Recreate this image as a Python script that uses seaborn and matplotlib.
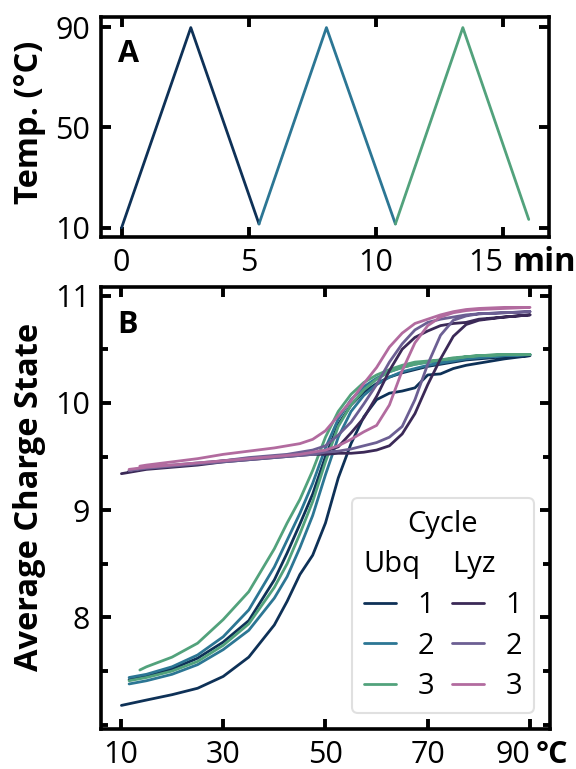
import matplotlib
matplotlib.use("Agg")
import matplotlib.pyplot as plt
import seaborn as sns
import pandas as pd
from matplotlib.ticker import FixedLocator
from matplotlib.legend_handler import HandlerBase
from matplotlib.lines import Line2D
from matplotlib.text import Text

# ---------------- Panel A: temperature program ----------------
cycle1_time = [0.0, 2.72, 5.40]
cycle1_temp = [10.0, 89.8, 11.5]
cycle2_time = [5.40, 8.05, 10.76]
cycle2_temp = [11.5, 89.8, 11.5]
cycle3_time = [10.76, 13.41, 16.00]
cycle3_temp = [11.5, 89.8, 13.3]

# ---------------- Panel B: average charge state vs temperature ----------------
temp_from_10 = [10.1, 15, 20, 25, 30, 35, 40, 42.5, 45, 47.5, 50, 52.5, 55,
                57.5, 60, 62.5, 65, 67.5, 70, 72.5, 75, 77.5, 80, 85, 90]
temp_from_11 = [11.6, 15, 20, 25, 30, 35, 40, 42.5, 45, 47.5, 50, 52.5, 55,
                57.5, 60, 62.5, 65, 67.5, 70, 72.5, 75, 77.5, 80, 85, 90]
temp_from_13 = [13.7, 15, 20, 25, 30, 35, 40, 42.5, 45, 47.5, 50, 52.5, 55,
                57.5, 60, 62.5, 65, 67.5, 70, 72.5, 75, 77.5, 80, 85, 90]

ubq_c1_heat = [7.18, 7.23, 7.28, 7.34, 7.45, 7.63, 7.93, 8.15, 8.40, 8.58, 8.88, 9.30, 9.62,
               9.87, 10.03, 10.09, 10.11, 10.14, 10.26, 10.27, 10.32, 10.35, 10.37, 10.41, 10.44]
ubq_c1_cool = [7.42, 7.45, 7.52, 7.62, 7.77, 7.97, 8.35, 8.60, 8.87, 9.15, 9.50, 9.80, 9.98,
               10.10, 10.18, 10.24, 10.28, 10.31, 10.34, 10.36, 10.38, 10.40, 10.41, 10.43, 10.44]
ubq_c2_heat = [7.38, 7.41, 7.47, 7.56, 7.70, 7.88, 8.18, 8.38, 8.65, 8.95, 9.33, 9.68, 9.92,
               10.07, 10.17, 10.24, 10.29, 10.32, 10.35, 10.37, 10.39, 10.41, 10.42, 10.44, 10.45]
ubq_c2_cool = [7.44, 7.47, 7.54, 7.65, 7.82, 8.07, 8.47, 8.72, 8.97, 9.25, 9.58, 9.85, 10.03,
               10.15, 10.23, 10.29, 10.33, 10.36, 10.38, 10.39, 10.41, 10.42, 10.43, 10.44, 10.45]
ubq_c3_heat = [7.41, 7.44, 7.50, 7.59, 7.74, 7.94, 8.28, 8.50, 8.78, 9.08, 9.45, 9.78, 9.98,
               10.12, 10.22, 10.29, 10.33, 10.36, 10.38, 10.40, 10.41, 10.43, 10.44, 10.45, 10.45]
ubq_c3_cool = [7.51, 7.54, 7.63, 7.76, 7.98, 8.24, 8.64, 8.88, 9.10, 9.37, 9.68, 9.92, 10.08,
               10.19, 10.26, 10.31, 10.35, 10.38, 10.39, 10.40, 10.42, 10.43, 10.44, 10.45, 10.45]

lyz_c1_heat = [9.34, 9.38, 9.40, 9.42, 9.45, 9.47, 9.49, 9.50, 9.51, 9.52, 9.52, 9.53, 9.53,
               9.54, 9.56, 9.60, 9.71, 9.90, 10.17, 10.41, 10.62, 10.73, 10.77, 10.80, 10.82]
lyz_c1_cool = [9.36, 9.39, 9.41, 9.43, 9.46, 9.48, 9.50, 9.51, 9.52, 9.53, 9.55, 9.59, 9.72,
               9.86, 10.06, 10.30, 10.50, 10.61, 10.67, 10.72, 10.74, 10.75, 10.78, 10.80, 10.82]
lyz_c2_heat = [9.37, 9.39, 9.41, 9.43, 9.45, 9.47, 9.49, 9.50, 9.51, 9.52, 9.54, 9.55, 9.57,
               9.60, 9.63, 9.68, 9.78, 10.03, 10.36, 10.63, 10.77, 10.81, 10.83, 10.84, 10.85]
lyz_c2_cool = [9.37, 9.40, 9.42, 9.44, 9.46, 9.49, 9.51, 9.52, 9.54, 9.56, 9.60, 9.70, 9.82,
               9.99, 10.17, 10.38, 10.55, 10.68, 10.75, 10.78, 10.80, 10.82, 10.83, 10.84, 10.85]
lyz_c3_heat = [9.38, 9.40, 9.42, 9.44, 9.46, 9.48, 9.50, 9.51, 9.52, 9.54, 9.56, 9.60, 9.66,
               9.73, 9.79, 9.98, 10.30, 10.56, 10.72, 10.80, 10.84, 10.86, 10.87, 10.88, 10.89]
lyz_c3_cool = [9.41, 9.42, 9.45, 9.48, 9.52, 9.55, 9.58, 9.60, 9.62, 9.66, 9.74, 9.88, 10.02,
               10.18, 10.33, 10.52, 10.65, 10.74, 10.78, 10.82, 10.85, 10.87, 10.88, 10.89, 10.89]

cycle_labels = ["1", "2", "3"]
ubq_colors = ["#0e3157", "#2c7694", "#52a27c"]
lyz_colors = ["#3b2957", "#6c5f93", "#b26b9f"]

# ---------------- style ----------------
sns.set_style("ticks")
plt.rcParams["font.family"] = ["Open Sans", "DejaVu Sans"]
plt.rcParams.update({
    "text.color": "black",
    "axes.labelcolor": "black",
    "xtick.color": "black",
    "ytick.color": "black",
    "axes.edgecolor": "black",
    "axes.linewidth": 2.6,
})

TICK_FS = 22
LABEL_FS = 23.5

fig = plt.figure(figsize=(5.76, 7.69), dpi=100)
ax_a = fig.add_axes([0.1753, 0.6918, 0.778, 0.286])
ax_b = fig.add_axes([0.1753, 0.052, 0.7795, 0.5748])


def style_axis(ax):
    ax.tick_params(which="both", direction="in", top=True, right=True,
                   labelsize=TICK_FS, colors="black", pad=8)
    ax.tick_params(which="major", length=7.5, width=2.8)
    ax.tick_params(which="minor", length=5, width=2.8)
    for s in ax.spines.values():
        s.set_linewidth(2.6)
        s.set_color("black")
    # the last x tick label sits flush left of its tick to leave room for the unit
    ax.figure.canvas.draw()
    last = ax.get_xticklabels()[-1]
    last.set_horizontalalignment("right")


# ---- Panel A ----
for t, T, c in [(cycle1_time, cycle1_temp, ubq_colors[0]),
                (cycle2_time, cycle2_temp, ubq_colors[1]),
                (cycle3_time, cycle3_temp, ubq_colors[2])]:
    sns.lineplot(x=t, y=T, color=c, lw=2, sort=False, estimator=None, ax=ax_a)

ax_a.set_xlim(-0.81, 16.8)
ax_a.set_ylim(6.3, 94)
ax_a.set_xticks([0, 5, 10, 15])
ax_a.set_yticks([10, 50, 90])
style_axis(ax_a)
ax_a.set_ylabel("Temp. (°C)", fontsize=LABEL_FS, fontweight="bold")
ax_a.yaxis.label.set_va("center")
ax_a.yaxis.set_label_coords(-0.16, 0.52)
ax_a.set_xlabel("min", fontsize=LABEL_FS, fontweight="bold")
ax_a.xaxis.label.set_va("baseline")
ax_a.xaxis.label.set_ha("left")
ax_a.xaxis.set_label_coords(0.918, -0.155)
ax_a.text(0.038, 0.795, "A", transform=ax_a.transAxes, fontsize=22,
          fontweight="bold", ha="left", va="baseline")

# ---- Panel B ----
records = []
series = [
    ("Ubq", 0, temp_from_10, ubq_c1_heat, temp_from_11, ubq_c1_cool),
    ("Ubq", 1, temp_from_11, ubq_c2_heat, temp_from_11, ubq_c2_cool),
    ("Ubq", 2, temp_from_11, ubq_c3_heat, temp_from_13, ubq_c3_cool),
    ("Lyz", 0, temp_from_10, lyz_c1_heat, temp_from_11, lyz_c1_cool),
    ("Lyz", 1, temp_from_11, lyz_c2_heat, temp_from_11, lyz_c2_cool),
    ("Lyz", 2, temp_from_11, lyz_c3_heat, temp_from_13, lyz_c3_cool),
]
for prot, ci, th, zh, tc, zc in series:
    name = f"{prot} {cycle_labels[ci]}"
    temps = list(th) + list(tc)[::-1]
    vals = list(zh) + list(zc)[::-1]
    for i, (tt, zz) in enumerate(zip(temps, vals)):
        records.append({"series": name, "step": i, "temp": tt, "charge": zz})
df = pd.DataFrame(records)

palette = {f"Ubq {cycle_labels[i]}": ubq_colors[i] for i in range(3)}
palette.update({f"Lyz {cycle_labels[i]}": lyz_colors[i] for i in range(3)})

sns.lineplot(data=df, x="temp", y="charge", hue="series", palette=palette,
             sort=False, estimator=None, units="series", lw=2, legend=False,
             ax=ax_b)

ax_b.set_xlim(6.1, 93.9)
ax_b.set_ylim(6.96, 11.08)
ax_b.set_xticks([10, 30, 50, 70, 90])
ax_b.set_yticks([8, 9, 10, 11])
ax_b.yaxis.set_minor_locator(FixedLocator([7.0, 7.5, 8.5, 9.5, 10.5]))
style_axis(ax_b)
ax_b.set_ylabel("Average Charge State", fontsize=LABEL_FS, fontweight="bold")
ax_b.yaxis.label.set_va("center")
ax_b.yaxis.set_label_coords(-0.16, 0.525)
ax_b.set_xlabel("°C", fontsize=22, fontweight="bold")
ax_b.xaxis.label.set_va("baseline")
ax_b.xaxis.label.set_ha("left")
ax_b.xaxis.set_label_coords(0.968, -0.077)
ax_b.text(0.036, 0.896, "B", transform=ax_b.transAxes, fontsize=22,
          fontweight="bold", ha="left", va="baseline")


# legend with column headers for each protein
class ColumnHeader:
    def __init__(self, text):
        self.text = text


class HeaderHandler(HandlerBase):
    def legend_artist(self, legend, orig_handle, fontsize, handlebox):
        t = Text(0, 0, orig_handle.text, fontproperties=legend.prop,
                 ha="left", va="baseline", color="black")
        handlebox.add_artist(t)
        return t


handles = [ColumnHeader("Ubq")]
handles += [Line2D([], [], color=c, lw=2) for c in ubq_colors]
handles += [ColumnHeader("Lyz")]
handles += [Line2D([], [], color=c, lw=2) for c in lyz_colors]
labels = [""] + cycle_labels + [""] + cycle_labels

leg = ax_b.legend(handles, labels, ncol=2, title="Cycle", loc="lower right",
                  fontsize=21, title_fontsize=21, handlelength=1.1,
                  handletextpad=0.75, columnspacing=0.6, labelspacing=0.4,
                  borderpad=0.4, borderaxespad=0.55,
                  handler_map={ColumnHeader: HeaderHandler()})
leg.get_frame().set_edgecolor("0.85")
leg.get_frame().set_linewidth(1.5)

fig.savefig("out.png", dpi=100)
